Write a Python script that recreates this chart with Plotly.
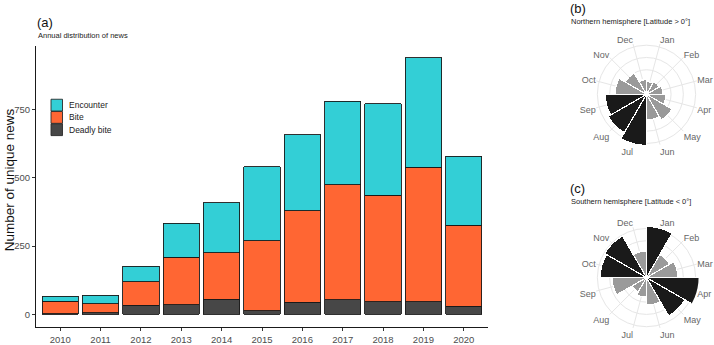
import plotly.graph_objects as go

W, H = 714, 345

# ---------------- data ----------------
years = ["2010", "2011", "2012", "2013", "2014", "2015", "2016", "2017", "2018", "2019", "2020"]
deadly_bite = [2, 6, 34, 35, 56, 14, 44, 53, 47, 47, 30]
bite = [47, 33, 86, 174, 169, 255, 336, 421, 389, 491, 297]
encounter = [18, 32, 57, 124, 184, 271, 278, 306, 335, 401, 252]
series_names = ["Encounter", "Bite", "Deadly bite"]
series_colors = ["#33CFD6", "#FF6633", "#474747"]

months = ["Jan", "Feb", "Mar", "Apr", "May", "Jun", "Jul", "Aug", "Sep", "Oct", "Nov", "Dec"]
north_values = [13, 15, 17, 20, 30, 26, 52, 45, 42, 32, 25, 15]
north_peak = [False, False, False, False, False, False, True, True, True, False, False, False]
south_values = [52, 27, 32, 54, 45, 28, 20, 17, 35, 47, 49, 27]
south_peak = [True, False, False, True, True, False, False, False, False, True, True, False]

y_ticks = [0, 250, 500, 750]


def px(x):
    return x / W


def py(y):
    return 1 - y / H


FONT = "Liberation Sans, Arial, sans-serif"
fig = go.Figure()

# stacked bars (bottom to top)
for name, vals, col in [("Deadly bite", deadly_bite, series_colors[2]),
                        ("Bite", bite, series_colors[1]),
                        ("Encounter", encounter, series_colors[0])]:
    fig.add_trace(go.Bar(x=years, y=vals, name=name, width=0.9,
                         marker=dict(color=col, line=dict(color="#1a1a1a", width=0.9)),
                         showlegend=False, xaxis="x", yaxis="y"))

# polar bars
bar_gray = "#9a9a9a"
bar_black = "#1a1a1a"
fig.add_trace(go.Barpolar(r=north_values, theta=months,
                          marker=dict(color=[bar_black if p else bar_gray for p in north_peak],
                                      line=dict(color="white", width=1.2)),
                          subplot="polar", showlegend=False))
fig.add_trace(go.Barpolar(r=south_values, theta=months,
                          marker=dict(color=[bar_black if p else bar_gray for p in south_peak],
                                      line=dict(color="white", width=1.2)),
                          subplot="polar2", showlegend=False))

R = 53
polar_common = dict(
    bgcolor="rgba(0,0,0,0)",
    bargap=0,
    radialaxis=dict(range=[0, R], tickvals=[12.5, 25, 37.5, 50], showticklabels=False,
                    showline=False, ticks="", gridcolor="#e6e6e6", gridwidth=0.8),
    angularaxis=dict(categoryarray=months, categoryorder="array", rotation=75,
                     direction="clockwise", showline=False, ticks="",
                     gridcolor="#e6e6e6", gridwidth=0.8,
                     tickfont=dict(family=FONT, size=9, color="#666666")),
)

cx = 646.5
fig.update_layout(
    width=W, height=H,
    margin=dict(l=0, r=0, t=0, b=0),
    paper_bgcolor="white", plot_bgcolor="white",
    barmode="stack",
    bargap=0.1,
    font=dict(family=FONT),
    xaxis=dict(domain=[px(36), px(488)], type="category", range=[-0.6, 10.6],
               showline=True, linecolor="#1a1a1a", linewidth=1, showgrid=False,
               ticks="outside", ticklen=3, tickcolor="#333333",
               tickfont=dict(size=9.5, color="#4d4d4d"), anchor="y"),
    yaxis=dict(domain=[py(333), py(47)], range=[-46.75, 981.75],
               tickvals=y_ticks, showline=True, linecolor="#1a1a1a", linewidth=1,
               showgrid=False, zeroline=False, ticks="outside", ticklen=3,
               tickcolor="#333333", tickfont=dict(size=9.5, color="#4d4d4d"), anchor="x"),
    polar=dict(domain=dict(x=[px(cx - R), px(cx + R)], y=[py(96 + R), py(96 - R)]), **polar_common),
    polar2=dict(domain=dict(x=[px(cx - R), px(cx + R)], y=[py(282.5 + R), py(282.5 - R)]), **polar_common),
)

ann = []
# panel titles
for label, sub, x0, ylab, ysub in [("(a)", "Annual distribution of news", 35, 23, 36.5),
                                   ("(b)", "Northern hemisphere [Latitude > 0°]", 568, 8.5, 21.5),
                                   ("(c)", "Southern hemisphere [Latitude < 0°]", 568, 192, 205.5)]:
    ann.append(dict(text=label, x=px(x0), y=py(ylab), xref="paper", yref="paper",
                    xanchor="left", yanchor="middle", showarrow=False,
                    font=dict(size=13, color="#111111")))
    ann.append(dict(text=sub, x=px(x0 + 0.5), y=py(ysub), xref="paper", yref="paper",
                    xanchor="left", yanchor="middle", showarrow=False,
                    font=dict(size=7.5, color="#222222")))

# y axis title
ann.append(dict(text="Number of unique news", x=px(9.5), y=py(183), xref="paper", yref="paper",
                textangle=-90, xanchor="center", yanchor="middle", showarrow=False,
                font=dict(size=13.5, color="#111111")))

# partial data note
ann.append(dict(text="Partial<br>data", x="2020", y=777, xref="x", yref="y",
                showarrow=False, font=dict(size=8, color="#333333"), align="center"))
ann.append(dict(text="", x="2020", y=618, ax="2020", ay=722, xref="x", yref="y",
                axref="x", ayref="y", showarrow=True, arrowhead=2, arrowsize=0.9,
                arrowwidth=0.9, arrowcolor="#444444"))

# legend (manual, keys stacked)
shapes = []
key_tops = [101, 113.5, 126]
for i, (nm, col) in enumerate(zip(series_names, series_colors)):
    t = key_tops[i]
    shapes.append(dict(type="rect", xref="paper", yref="paper",
                       x0=px(51), x1=px(62.5), y0=py(t + 12), y1=py(t),
                       fillcolor=col, line=dict(color="#2a2a2a", width=0.9)))
    ann.append(dict(text=nm, x=px(67), y=py(t + 6), xref="paper", yref="paper",
                    xanchor="left", yanchor="middle", showarrow=False,
                    font=dict(size=8.5, color="#222222")))

fig.update_layout(annotations=ann, shapes=shapes)
fig.write_html("out.html", config={"displayModeBar": False},
               post_script="document.body.style.margin='0';document.body.style.overflow='hidden';")
